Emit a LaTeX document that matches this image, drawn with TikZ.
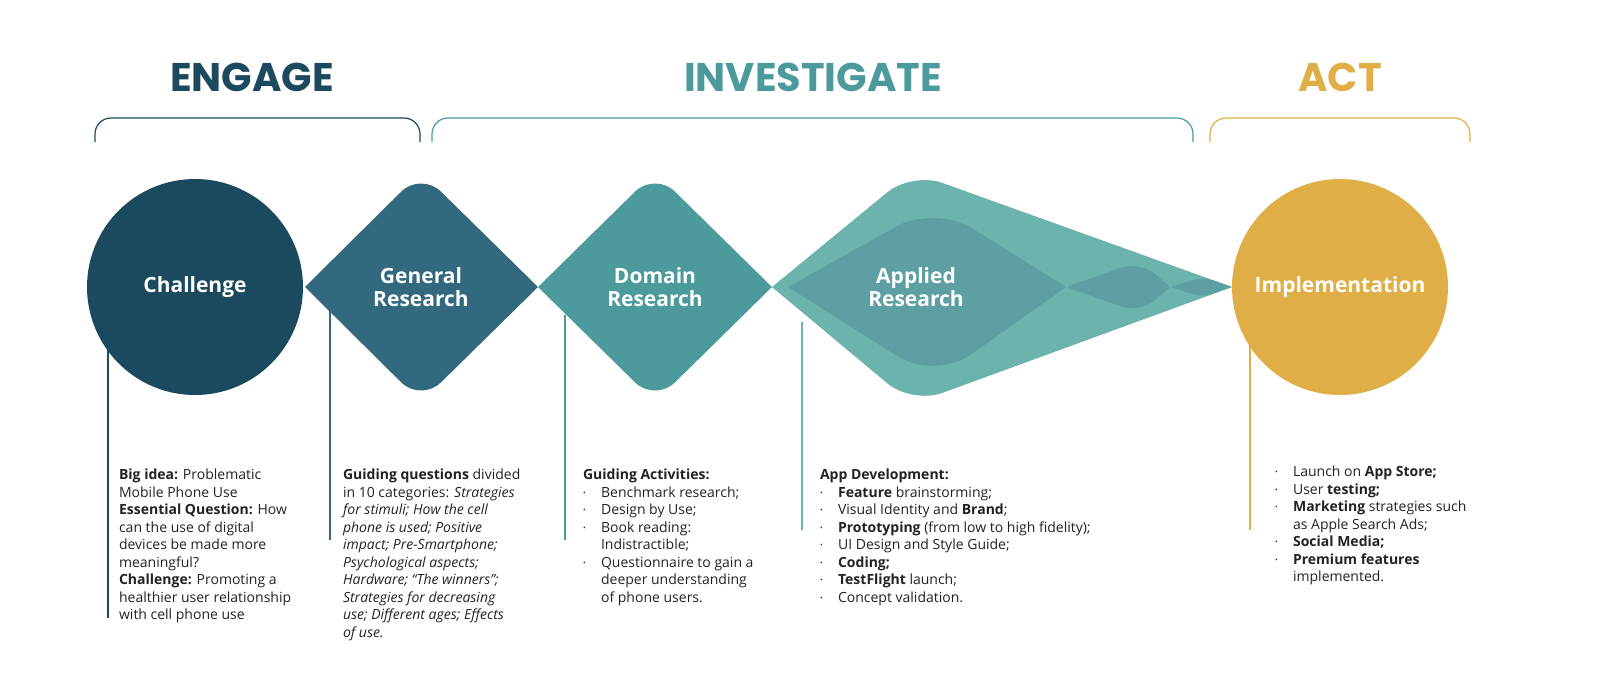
\documentclass[tikz,border=0pt]{standalone}
\usepackage{fontspec}
\setmainfont{Open Sans}
\newfontfamily\headfont{Poppins}
\usetikzlibrary{positioning}
\definecolor{engage}{HTML}{1B4A5E}
\definecolor{general}{HTML}{33697E}
\definecolor{domainc}{HTML}{4C9A9C}
\definecolor{appout}{HTML}{6CB3AE}
\definecolor{appin}{HTML}{5D9FA3}
\definecolor{act}{HTML}{E0AE47}
\definecolor{body}{HTML}{222222}
\newcommand{\bul}{\makebox[9pt][l]{\raisebox{0.25ex}{\scalebox{0.5}{\textbullet}}}}
\newcommand{\ind}{\hspace*{9pt}}
\begin{document}
\begin{tikzpicture}[x=0.5pt,y=-0.5pt,
  head/.style={font=\headfont\bfseries\fontsize{20}{22}\selectfont},
  brace/.style={line width=0.6pt, rounded corners=8pt},
  label/.style={font=\bfseries\fontsize{10.5}{11.5}\selectfont, text=white, align=center},
  stem/.style={line width=1.2pt},
  info/.style={anchor=north west, align=left, text=body, font=\fontsize{7}{8.75}\selectfont}]
  \useasboundingbox (0,0) rectangle (1600,696);
  %--- phase headings
  \node[head, text=engage] (engage) at (252,77) {ENGAGE};
  \node[head, text=domainc] (investigate) at (813,77) {INVESTIGATE};
  \node[head, text=act] (actt) at (1340,77) {ACT};
  \draw[brace, engage] (95,142) -- (95,118) -- (420,118) -- (420,142);
  \draw[brace, domainc] (432,142) -- (432,118) -- (1193,118) -- (1193,142);
  \draw[brace, act] (1210,142) -- (1210,118) -- (1470,118) -- (1470,142);
  %--- stems
  \draw[stem, engage] (108,350) -- (108,618);
  \draw[stem, general] (330,310) -- (330,540);
  \draw[stem, domainc] (565,315) -- (565,540);
  \draw[stem, appout] (802,322) -- (802,530);
  \draw[stem, act] (1250,345) -- (1250,530);
  %--- Challenge
  \fill[engage] (195,287) circle (108);
  \node[label] (challenge) at (195,287) {Challenge};
  %--- General research
  \fill[general] (305,287) [rounded corners=14pt] -- (421,172) [sharp corners] -- (538,287) [rounded corners=14pt] -- (421,402) [sharp corners] -- cycle;
  \node[label] (general) at (421,287) {General\\Research};
  %--- Domain research
  \fill[domainc] (538,287) [rounded corners=14pt] -- (655,172) [sharp corners] -- (772,287) [rounded corners=14pt] -- (655,402) [sharp corners] -- cycle;
  \node[label] (domainr) at (655,287) {Domain\\Research};
  %--- Applied research
  \fill[appout] (772,287) [rounded corners=16pt] -- (912,172) [sharp corners] -- (1232,287) [rounded corners=16pt] -- (912,404) [sharp corners] -- cycle;
  \fill[appin] (788,287) [rounded corners=22pt] -- (935,205) [sharp corners] -- (1066,287) [rounded corners=22pt] -- (935,380) [sharp corners] -- cycle;
  \fill[appin] (1066,287) [rounded corners=10pt] -- (1140,261) [sharp corners] -- (1170,287) [rounded corners=10pt] -- (1140,313) [sharp corners] -- cycle;
  \fill[appin] (1170,287) [rounded corners=5pt] -- (1203,277) [sharp corners] -- (1232,287) [rounded corners=5pt] -- (1203,297) [sharp corners] -- cycle;
  \node[label] (applied) at (916,287) {Applied\\Research};
  %--- Implementation
  \fill[act] (1340,287) circle (108);
  \node[label] (impl) at (1340,287) {Implementation};
  %--- texts
  \node[info] (txtengage) at (112,462) {\textbf{Big idea:} Problematic\\Mobile Phone Use\\\textbf{Essential Question:} How\\can the use of digital\\devices be made more\\meaningful?\\\textbf{Challenge:} Promoting a\\healthier user relationship\\with cell phone use};
  \node[info] (txtgeneral) at (336,462) {\textbf{Guiding questions} divided\\in 10 categories: \textit{Strategies}\\\textit{for stimuli; How the cell}\\\textit{phone is used; Positive}\\\textit{impact; Pre-Smartphone;}\\\textit{Psychological aspects;}\\\textit{Hardware; ``The winners'';}\\\textit{Strategies for decreasing}\\\textit{use; Different ages; Effects}\\\textit{of use.}};
  \node[info] (txtdomain) at (576,462) {\textbf{Guiding Activities:}\\\bul Benchmark research;\\\bul Design by Use;\\\bul Book reading:\\\ind Indistractible;\\\bul Questionnaire to gain a\\\ind deeper understanding\\\ind of phone users.};
  \node[info] (txtapplied) at (813,462) {\textbf{App Development:}\\\bul\textbf{Feature} brainstorming;\\\bul Visual Identity and \textbf{Brand};\\\bul\textbf{Prototyping} (from low to high fidelity);\\\bul UI Design and Style Guide;\\\bul\textbf{Coding;}\\\bul\textbf{TestFlight} launch;\\\bul Concept validation.};
  \node[info] (txtact) at (1268,459) {\bul Launch on \textbf{App Store;}\\\bul User \textbf{testing;}\\\bul\textbf{Marketing} strategies such\\\ind as Apple Search Ads;\\\bul\textbf{Social Media;}\\\bul\textbf{Premium features}\\\ind implemented.};
\end{tikzpicture}
\end{document}
